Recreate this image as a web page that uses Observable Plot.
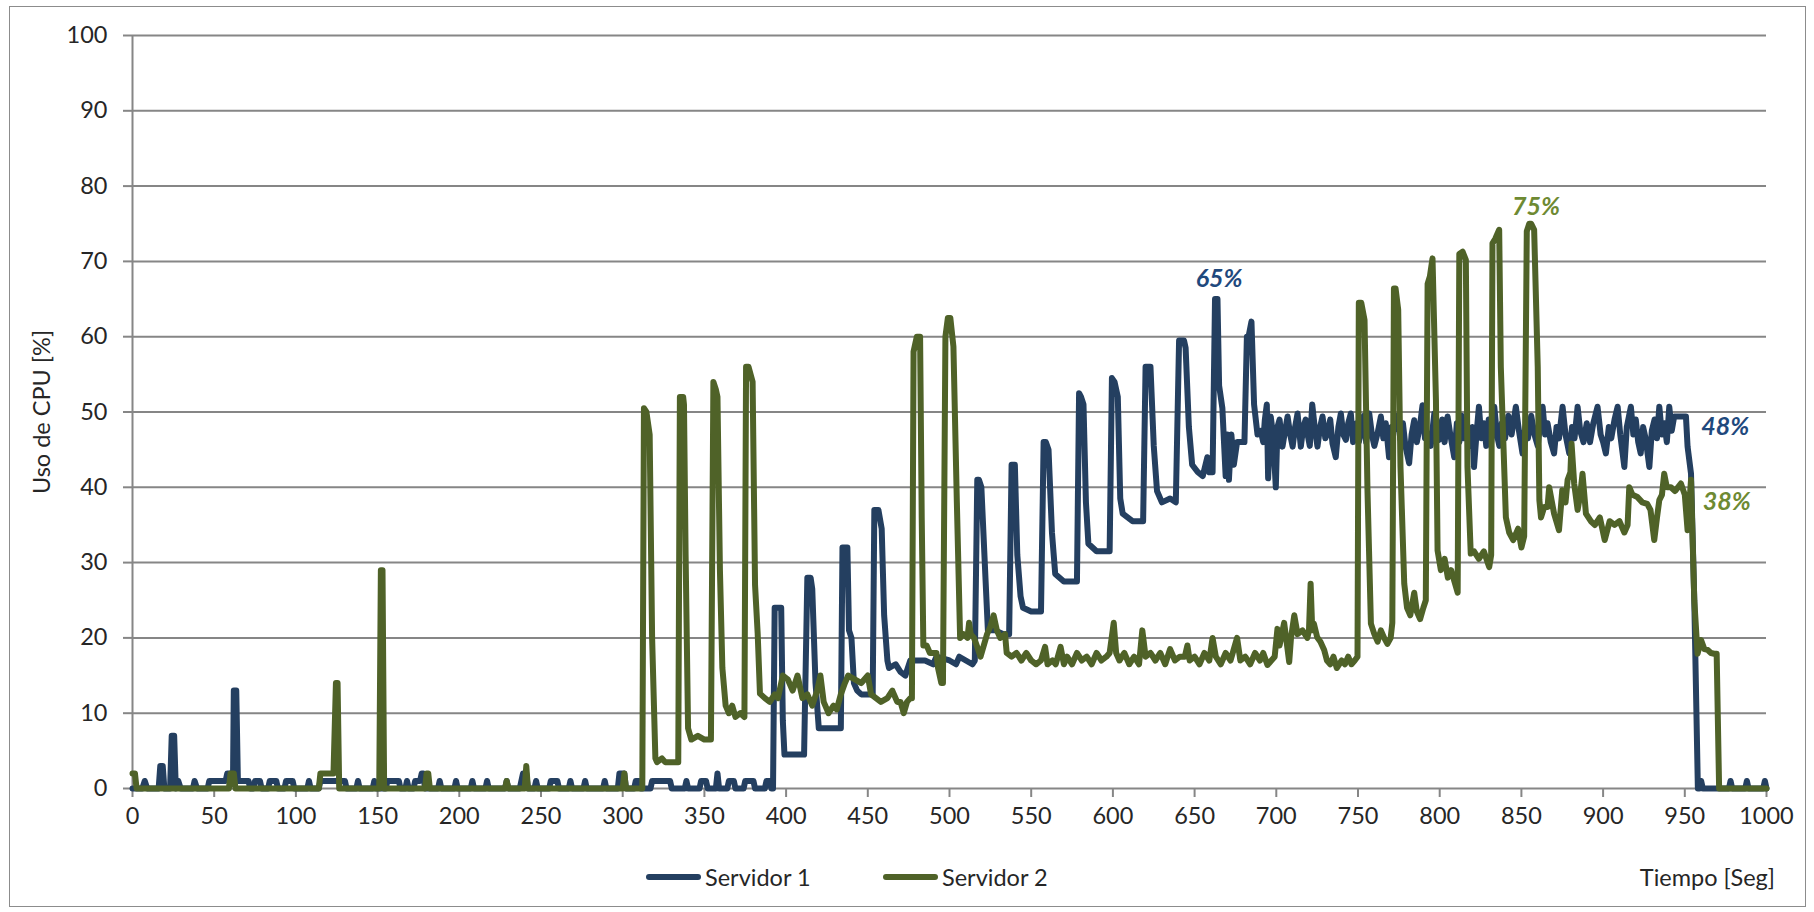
<!DOCTYPE html>
<html lang="es">
<head>
<meta charset="utf-8">
<title>Uso de CPU por servidor</title>
<script src="https://cdn.jsdelivr.net/npm/d3@7"></script>
<script src="https://cdn.jsdelivr.net/npm/@observablehq/plot@0.6"></script>
<style>
  html, body { margin: 0; padding: 0; background: #fff; }
  body { width: 1814px; height: 912px; position: relative; overflow: hidden; font-family: Lato, "Open Sans", sans-serif; }
  #marco { position: absolute; left: 9px; top: 6px; width: 1797px; height: 901px; border: 1px solid #8c8c8c; box-sizing: border-box; }
  #grafico { position: absolute; left: 0; top: 0; }
  .leyenda { position: absolute; top: 862px; height: 30px; display: flex; align-items: center; font-size: 23.5px; color: #262626; }
  .muestra { display: inline-block; width: 55px; height: 6px; border-radius: 3px; margin-right: 4px; }
</style>
</head>
<body>
<div id="marco"></div>
<div id="grafico"></div>
<div class="leyenda" id="ley1" style="left:646px"></div>
<div class="leyenda" id="ley2" style="left:883px"></div>
<div class="leyenda" id="ejeX" style="right:39px">Tiempo [Seg]</div>
<script>
// Series names and colours
const series = ["Servidor 1", "Servidor 2"];
const colores = ["#243f60", "#4f6228"];

// Axis ticks
const ticksX = [0, 50, 100, 150, 200, 250, 300, 350, 400, 450, 500, 550, 600, 650, 700, 750, 800, 850, 900, 950, 1000];
const ticksY = [0, 10, 20, 30, 40, 50, 60, 70, 80, 90, 100];

// Servidor 1: [tiempo (s), uso de CPU (%)]
const servidor1 = [
  [0,0],[6,0],[7.5,1],[9,0],[16,0],[17,3],[18.5,3],[19.5,0],[23,0],[24,7],[25.5,7],[26.5,0],[28,1],[29.5,0],
  [37,0],[38,1],[39.5,0],[46,0],[47,1],[57,1],[58,2],[60,2],[61.5,1],[62,13],[63.5,13],[64.5,1],[71,1],[72,0],
  [74,0],[75,1],[78,1],[79,0],[83,0],[84,1],[88,1],[89,0],[93,0],[94,1],[98,1],[99,0],[107,0],[108,1],[109,0],
  [114,0],[115,1],[130,1],[131,0],[137,0],[138,1],[139,0],[147,0],[148,1],[149,0],[155,0],[156,1],[163,1],[164,0],
  [167,0],[168,1],[169,0],[172,0],[173,1],[176,1],[177,2],[178,2],[179,0],[187,0],[188,1],[189,0],[197,0],[198,1],
  [199,0],[207,0],[208,1],[209,0],[216,0],[217,1],[218,0],[228,0],[229,1],[230,0],[237,0],[238,1],[239,2],[241,2],
  [242,0],[246,0],[247,1],[248,0],[255,0],[256,1],[260,1],[261,0],[267,0],[268,1],[269,0],[276,0],[277,1],[278,0],
  [288,0],[289,1],[290,0],[297,0],[298,2],[301,2],[302,0],[307,0],[308,1],[310,1],[311,0],[317,0],[318,1],[329,1],
  [330,0],[338,0],[339,1],[340,0],[347,0],[348,1],[351,1],[352,0],[357,0],[358,2],[359,0],[364,0],[365,1],[368,1],
  [369,0],[374,0],[375,1],[380,1],[381,0],[387,0],[388,1],[390,1],[391,0],[392,0],
  [393,24],[397,24],[398,9],[399,4.5],[411,4.5],[413,28],[415,28],[416,26.5],[418,14],[420,8],[433.5,8],
  [434.5,32],[437.5,32],[438.5,21],[440,20],[441.5,14],[443.5,13],[446,12.5],[450,12.5],[453,12.5],
  [454,37],[456.5,37],[458.5,34.5],[460,23],[462,17],[463,16],[467,16.5],[470,15.5],[473,15],[476,17],[485,17],
  [490,16.5],[492,17.5],[500,17],[504,16.5],[506,17.5],[514,16.5],[515.5,17],
  [517,41],[518,41],[519.5,40],[522,28],[523.5,21],[528,21],[533,20.5],[536.5,20.5],
  [538,43],[540,43],[541.5,31],[543.5,25.5],[545,24],[550,23.5],[556,23.5],
  [557.6,46],[559,46],[560.6,45],[562.7,34],[564.7,28.5],[570,27.5],[578,27.5],
  [579.3,52.5],[580.5,52],[582,51],[583.5,38],[585,32.5],[590,31.5],[598,31.5],
  [599.4,54.5],[601,54],[603,52],[604.5,38.5],[606,36.5],[612,35.5],[618.5,35.5],
  [620,56],[623,56],[625,45.5],[627,39.5],[630,38],[635,38.5],[638.5,38],
  [640.5,59.5],[643.5,59.5],[644.5,58.5],[646.5,48],[648.5,43],[652,42],[655,41.5],[657.8,44],[659,42],[661,42],
  [662.5,65],[664,65],[665,53.5],[667,50.5],[669,41.5],[670,47],[671,41],[672.5,47],[674,43],[676,46],[680.5,46],
  [682,60],[683,60],[684.8,62],[686.4,51],[688.5,47],
  [690.5,47.5],[692,46],[693,49],[694.2,51],[695,41.2],[696.6,49.4],[698,47],[699.7,40],[700.7,48],[702,49],
  [703.8,45.4],[705,47],[706.9,49.4],[708.5,47],[710,45.4],[711.5,48],[713,49.8],[715,45.4],[716.5,48],[718,49],
  [719,47.2],[720.5,45.5],[722,51],[723.5,48],[725.2,45.4],[726.8,48],[728.3,49.4],[730,46.5],[731.3,47.2],
  [733,49],[734.4,45.8],[736.4,44],[738,48],[739.5,49.8],[741,47],[742.6,46.3],[744,48.5],[745.6,49.8],[747,46],
  [749,48.5],[750.5,46],[751.7,47.2],[753.5,49.5],[755,46],[756.9,49.8],[758.5,47],[760,45.5],[762,47.2],
  [764,49.4],[765.5,46.5],[767,48.5],[769,44],[770.5,48],[772,47.6],[774,49.5],[776,46.3],[777.5,48.5],[779,45.5],
  [781.3,43.2],[782.8,47],[784.4,48.9],[786,46],[787.8,48],[789.5,50.9],[791,46.5],[792.6,47.2],[794.5,45.5],
  [796.7,49.8],[798.2,47.5],[799.7,46.3],[801.5,49],[803,46],[804.8,49.4],[806.5,47],[808.9,44],[810.5,48.5],
  [812,46],[813.5,49.5],[815,46.5],[817,48],[818.5,45.5],[820,48],[821,42.7],[822.5,47],[824,50.7],[825.5,46.5],
  [827,48.5],[828.5,45.5],[830,49],[831.5,46],[833.4,50.7],[835,47],[836.5,45.5],[838,48.5],[840,46.5],[842,49.5],
  [844,47],[846.6,50.7],[848.5,47.5],[850.7,44.5],[852.5,48],[854,46.5],[856,49.5],[858,47],[860,45.5],[861.5,48.5],
  [863,50.7],[864.5,47],[866,48.5],[868,46],[870,44.5],[871.5,48],[873,46.5],[875.2,50.7],[877,47],[879.3,44.5],
  [881,48],[882.5,46.5],[884.4,50.7],[886,47.5],[888,46],[890,48.5],[892,46],[894,48.5],[896.6,50.7],[898.5,47],
  [900,46],[901.7,44.5],[903.5,48],[905,46.5],[907,49],[908.9,50.7],[910.5,47],[913,42.7],[914.5,48],[917,50.7],
  [918.5,47],[920,49],[921.5,46],[923,44.5],[924.5,48],[926,46.5],[928.3,42.7],[929.8,47.5],[931.5,49],[933,46.5],
  [934.4,50.7],[936,47],[937.5,48.5],[939,46],[940.5,50.7],[942,47.5],[943.5,49.4],[950.7,49.4],[951.7,45.4],
  [953.8,41.8],[955.8,25],[958,0],[959,0],[960,1],[961,0],[977,0],[978,1],[979,0],[987,0],[988,1],[989,0],[998,0],[999,1],[1000,0]
];

// Servidor 2: [tiempo (s), uso de CPU (%)]
const servidor2 = [
  [0,2],[1.5,2],[2.5,0],[59,0],[60,2],[62,2],[63,0],[114,0],[115,2],[123,2],[124.5,14],[125.5,14],[126.5,0],
  [151,0],[152,29],[153,29],[154,0],[179,0],[180,2],[181,2],[182,0],[228,0],[229,1],[230,0],[240,0],[241,3],[242,0],
  [300,0],[301,2],[302,0],[312,0],
  [313,50.5],[314.5,50],[316.5,47],[318,20],[320,4],[321,3.5],[324,4],[326,3.5],[334,3.5],
  [335,52],[337,52],[337.5,51],[338.5,31],[340,8],[342,6.5],[346,7],[350,6.5],[354,6.5],
  [355.5,54],[357,53],[358,52],[359.5,29],[361,16],[363,11],[365,10],[367,11],[369,9.5],[372,10],[374.5,9.5],
  [375.5,56],[377,56],[379.5,54],[381,27],[382.6,20.6],[384,12.6],[387,12],[390,11.5],[393,12.5],[395,12],
  [398,15],[401,14.5],[404,13],[407,15],[410,12],[413,12.5],[416,11],[419,13],[421,15],[423,11.5],[426,10],
  [429,11],[431,10.5],[433.5,12.5],[436,14],[438,15],[442,14.5],[446,14],[450,15],[452,12.5],[455,12],[458,11.5],
  [462,12],[465,13],[468,11.5],[470,11.5],[472,10],[474,11.5],[476,12],[477,12],
  [478,58],[480,60],[482,60],[483,36],[484,19],[486,19],[488,18],[490,18],[492,18],[493,16],[495,14],[496,14],
  [497.5,60],[499,62.5],[500.5,62.5],[502.4,58.7],[504.5,38],[506.5,20],[508.6,20.5],[511,20],[512,22],[513,20.5],
  [515,20],[517,18.8],[519,17.5],[521,19],[523,20.5],[525,21.5],[527,23],[529,21],[531,20],[534,20.5],[535,18],
  [538,17.5],[541,18],[544,17],[547,18],[550,17],[553,16.5],[556,17],[558.5,18.8],[560,16.5],[563,17],[565,16.5],
  [568,18.8],[570,16.5],[572,17.5],[575,16.5],[578,18],[581,17],[584,17.5],[587,16.5],[590,18],[593,17],
  [596,17.5],[598,18],[600.5,22],[602,18],[604,17],[607,18],[610,16.5],[613,17.5],[616,16.5],[618,21],[620,17.5],
  [623,18],[626,17],[629,18],[632,16.5],[635,18.5],[638,17],[641,17.5],[644,17.5],[645.6,19],[647,17],[650,17.5],
  [653,16.5],[656,18],[659,17],[661,20],[663,17.5],[666,16.5],[669,18],[672,17],[674,18.5],[676,20],[678,17],
  [681,17.5],[684,16.5],[687,18],[690,17],[692,18],[694.6,16.4],[697,17],[699,17.5],[700.7,21.2],[702,19],
  [704.8,22],[706,20],[707.9,16.8],[709,20],[711,23],[713,20.5],[716,21],[719,20],[720,21],[721,27.2],[722,21],
  [723,21.9],[725,20.1],[727,19.5],[729.3,18.4],[731,17],[733,16.5],[735,17.5],[737,16],[740,17],[742,16.5],
  [744,17.5],[746,16.5],[748,17],[749.7,17.5],
  [750.5,64.5],[752,64.5],[754,62.2],[755.8,39.6],[757.9,21.9],[760,20.5],[762,19.5],[764,21],[766,20],[768,19.2],
  [770,20],[771,22],[772,66.4],[773,66.4],[774.6,63.6],[776,42.7],[778.3,27.2],[780,24],[782,23],[784.4,26],
  [786,23.5],[788,22.5],[790,24],[791.5,25],[792.6,67],[794,68],[795.6,70.4],[797.7,51.6],[798.7,31.6],[800.7,29],
  [803,30.5],[805,28],[807,29],[809,27.5],[811,26],[812,71],[814,71.3],[816,70.2],[817,42.7],[819,31.2],[821,31.5],
  [824,30.5],[827,31.5],[830.3,29.4],[831.5,31],[832.3,72.4],[834,73],[836.4,74.2],[837.4,56],[840.5,36],
  [842.5,34],[845,33],[848,34.5],[850,32],[851.7,33.5],[853.3,74],[854.8,75],[856,75],[857.8,74.2],[860,56],
  [861,38.3],[862,36],[864,37.4],[866,37.4],[867,40],[870,36.5],[873,34.3],[875,39.6],[877,38],[878.3,41],[880,42],
  [880.7,45.8],[882.3,40.5],[884.4,37],[886,39],[887.4,41.8],[889.5,36.5],[892.5,35.5],[895,35],[898,36],[901,33],
  [904,35.5],[907,35],[910,35.5],[913,34],[915,35],[916,40],[918,39],[921,38.7],[924,38],[927,37.8],[929,37],
  [931.3,33],[933,36],[934.4,38.3],[936,39],[937.4,41.8],[939,40],[941.5,40],[944,39.5],[947.6,40.5],[950,39],
  [951.7,34.3],[953.8,41],[955.8,25],[957.8,17.9],[960,19.7],[962,18.5],[964,18.4],[966,18],[968,17.9],
  [969.5,17.9],[971,0],[1000,0]
];

// Value callouts: peak and final level of each server
const picoS1 = [{t: 665, v: 65, texto: "65%"}];
const picoS2 = [{t: 859, v: 75, texto: "75%"}];
const finalS1 = [{t: 960, v: 48, texto: "48%"}];
const finalS2 = [{t: 961, v: 38, texto: "38%"}];

const gris = "#868686";
const textoEje = "#262626";
const colorEtiqueta = ["#1f497d", "#6e8a32"];

const fuenteEtiqueta = {fontFamily: "Lato", fontSize: 25, fontWeight: "bold", fontStyle: "italic"};

const grafico = Plot.plot({
  width: 1814,
  height: 850,
  marginLeft: 132,
  marginRight: 48,
  marginTop: 35,
  marginBottom: 62,
  style: {fontFamily: "Lato, 'Open Sans', sans-serif", fontSize: "23.5px", color: textoEje, background: "transparent", overflow: "visible"},
  x: {domain: [0, 1000]},
  y: {domain: [0, 100]},
  marks: [
    Plot.gridY({ticks: ticksY, stroke: gris, strokeOpacity: 1, strokeWidth: 2}),
    Plot.ruleX([0], {stroke: gris, strokeWidth: 2}),
    Plot.axisY({ticks: ticksY, tickSize: 9, tickPadding: 16, stroke: gris, strokeWidth: 2, fill: textoEje,
      tickFormat: d => String(d), label: "Uso de CPU [%]", labelAnchor: "center", labelOffset: 99, labelArrow: "none"}),
    Plot.axisX({ticks: ticksX, tickSize: 9, tickPadding: 10, stroke: gris, strokeWidth: 2, fill: textoEje,
      tickFormat: d => String(d), label: null}),
    Plot.line(servidor1, {stroke: colores[0], strokeWidth: 6, strokeLinejoin: "round", strokeLinecap: "round"}),
    Plot.line(servidor2, {stroke: colores[1], strokeWidth: 6, strokeLinejoin: "round", strokeLinecap: "round"}),
    Plot.text(picoS1, {x: "t", y: "v", text: "texto", dy: -20, fill: colorEtiqueta[0], ...fuenteEtiqueta}),
    Plot.text(picoS2, {x: "t", y: "v", text: "texto", dy: -17, fill: colorEtiqueta[1], ...fuenteEtiqueta}),
    Plot.text(finalS1, {x: "t", y: "v", text: "texto", textAnchor: "start", fill: colorEtiqueta[0], ...fuenteEtiqueta}),
    Plot.text(finalS2, {x: "t", y: "v", text: "texto", textAnchor: "start", fill: colorEtiqueta[1], ...fuenteEtiqueta})
  ]
});
document.getElementById("grafico").appendChild(grafico);

// Legend entries below the plot
series.forEach((nombre, i) => {
  const el = document.getElementById(i === 0 ? "ley1" : "ley2");
  const muestra = document.createElement("span");
  muestra.className = "muestra";
  muestra.style.background = colores[i];
  el.appendChild(muestra);
  el.appendChild(document.createTextNode(nombre));
});
</script>
</body>
</html>
